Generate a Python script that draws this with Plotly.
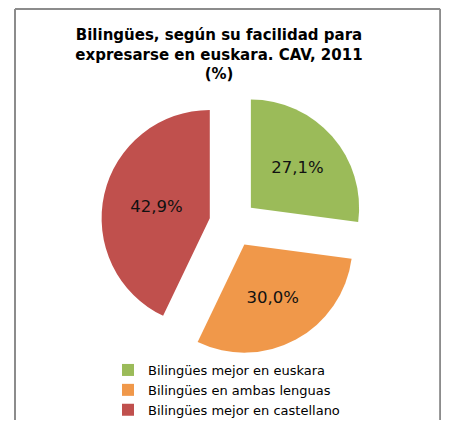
import plotly.graph_objects as go

# Bilingües según facilidad para expresarse en euskara, CAV 2011 (%)
labels = ["Bilingües mejor en euskara",
          "Bilingües en ambas lenguas",
          "Bilingües mejor en castellano"]
values = [27.1, 30.0, 42.9]
colors = ["#9BBB59", "#F0984A", "#C0504D"]

# the page body has an 8px margin, so the figure is 16px smaller than the window
OFF = 8
W, H = 449 - 2 * OFF, 428 - 2 * OFF

def px_x(x):
    # page pixel -> paper fraction
    return (x - OFF) / W

def px_y(y):
    return (H + OFF - y) / H

fig = go.Figure(go.Pie(
    labels=labels,
    values=values,
    sort=False,
    direction="clockwise",
    rotation=0,
    pull=[0.22, 0.22, 0.22],
    marker=dict(colors=colors, line=dict(width=0)),
    texttemplate="%{value:.1f}%",
    textposition="inside",
    insidetextorientation="horizontal",
    textfont=dict(family="DejaVu Sans", size=16.5, color="#111111"),
    hoverinfo="label+value",
    domain=dict(x=[px_x(101), px_x(365)], y=[px_y(355.5), px_y(91.5)]),
))

fig.update_layout(
    width=W, height=H,
    separators=",.",
    paper_bgcolor="white",
    plot_bgcolor="white",
    margin=dict(l=0, r=0, t=0, b=0, autoexpand=False),
    title=dict(
        text="Bilingües, según su facilidad para<br>expresarse en euskara. CAV, 2011<br>(%)",
        font=dict(family="DejaVu Sans", size=15, color="#000000", weight="bold"),
        x=px_x(219), xanchor="center",
        y=px_y(40), yanchor="top",
    ),
    legend=dict(
        x=px_x(108), xanchor="left",
        y=px_y(355), yanchor="top",
        font=dict(family="DejaVu Sans", size=13, color="#000000"),
        bgcolor="rgba(0,0,0,0)",
        tracegroupgap=0,
        itemclick=False,
    ),
    showlegend=True,
)

# grey chart frame: left, top and right edges (bottom edge runs off the picture)
frame = dict(color="#8C8C8C", width=2)
fx0, fx1, fy1 = px_x(15), min(px_x(443), 0.998), px_y(9)
fig.add_shape(type="line", xref="paper", yref="paper", x0=fx0, x1=fx0, y0=0, y1=fy1, line=frame)
fig.add_shape(type="line", xref="paper", yref="paper", x0=fx0, x1=fx1, y0=fy1, y1=fy1, line=frame)
fig.add_shape(type="line", xref="paper", yref="paper", x0=fx1, x1=fx1, y0=0, y1=fy1, line=frame)

fig.write_html("out.html")
